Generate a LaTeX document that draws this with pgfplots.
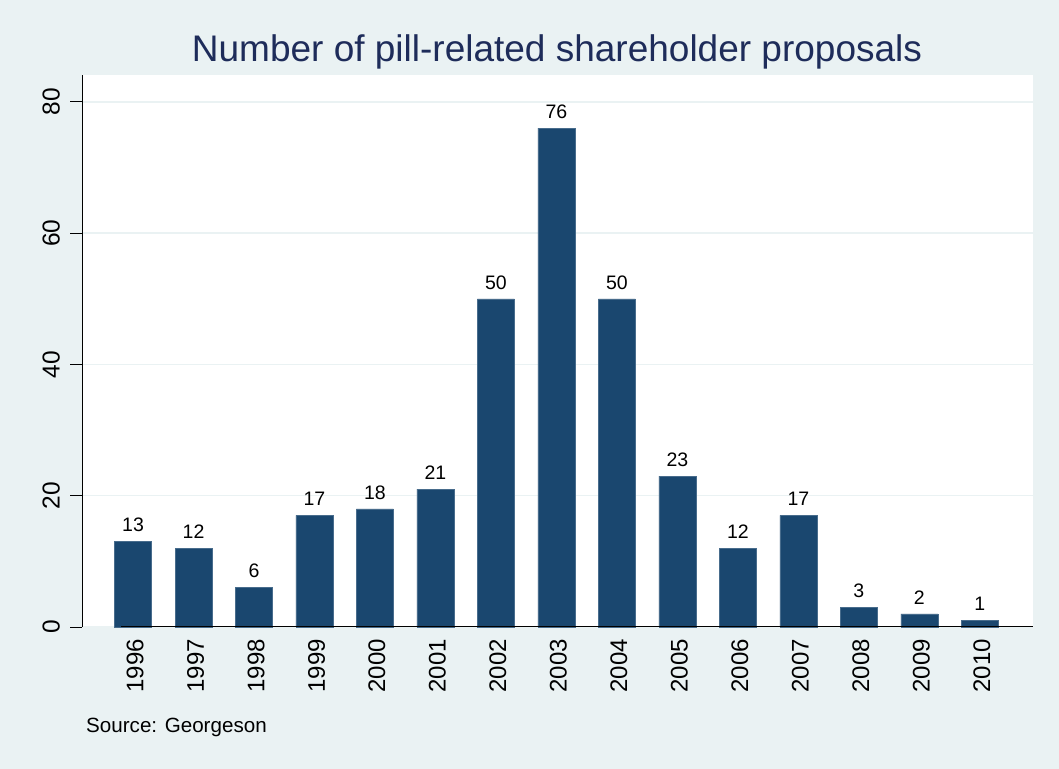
\documentclass[border=0pt]{standalone}
\usepackage{pgfplots}
\pgfplotsset{compat=1.18}
\usepackage{fontspec}
\setmainfont{Liberation Sans}
\definecolor{bgc}{HTML}{EAF2F3}
\definecolor{barc}{HTML}{1A476F}
\definecolor{titc}{HTML}{1E2C5A}
\begin{document}
\begin{tikzpicture}[x=1bp,y=1bp]
\fill[bgc] (0,0) rectangle (1059,769);
\begin{axis}[
  at={(82bp,142bp)}, anchor=south west,
  scale only axis, width=951bp, height=552bp,
  xmin=-0.844, xmax=14.88, ymin=0, ymax=84.1,
  /pgf/number format/assume math mode=true,
  axis background/.style={fill=white},
  axis line style={draw=none},
  ybar, bar width=37bp,
  xtick={0,...,14},
  xticklabels={1996,1997,1998,1999,2000,2001,2002,2003,2004,2005,2006,2007,2008,2009,2010},
  xtick style={draw=none},
  xticklabel style={rotate=90, anchor=east, font=\fontsize{24bp}{24bp}\selectfont, inner sep=0pt, yshift=-2bp},
  ytick={0,20,40,60,80},
  ytick pos=left,
  ytick style={black, line width=0.9bp},
  tick align=outside, major tick length=12bp,
  yticklabel style={rotate=90, anchor=south, font=\fontsize{24.5bp}{24.5bp}\selectfont, inner sep=0pt, yshift=10bp},
  ymajorgrids, grid style={bgc, line width=1.5bp},
  nodes near coords,
  every node near coord/.append style={font=\fontsize{19.5bp}{19.5bp}\selectfont, black, yshift=6bp},
  clip=false,
]
\addplot[fill=barc, draw=barc!80!white, line width=0.5bp] coordinates {
(0,13) (1,12) (2,6) (3,17) (4,18) (5,21) (6,50) (7,76) (8,50) (9,23) (10,12) (11,17) (12,3) (13,2) (14,1)};
\draw[black, line width=1bp] (axis cs:-0.844,0) ++(-12bp,0) -- (axis cs:14.88,0);
\draw[black, line width=1bp] (axis cs:-0.844,0) -- (axis cs:-0.844,84.1);
\end{axis}
\node[anchor=base, font=\fontsize{37bp}{37bp}\selectfont, text=titc, inner sep=0pt] at (557,769-62) {Number of pill-related shareholder proposals};
\node[anchor=base west, font=\fontsize{20.6bp}{20.6bp}\selectfont, inner sep=0pt] at (86,769-733) {Source: Georgeson};
\end{tikzpicture}
\end{document}
